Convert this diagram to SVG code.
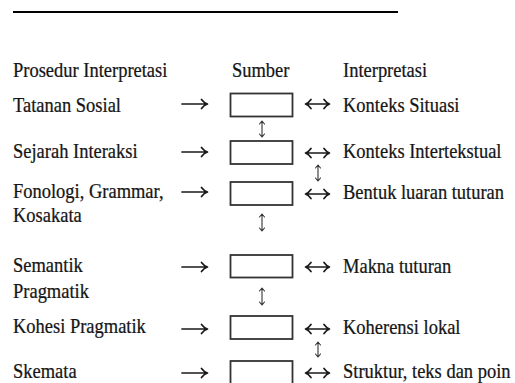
<svg xmlns="http://www.w3.org/2000/svg" width="515" height="383" viewBox="0 0 515 383">
<style>
  .t { font-family: 'Liberation Serif', 'Times New Roman', Times, serif; font-size: 21px; fill: #151515; stroke: #151515; stroke-width: 0.25; }
  .box rect { fill: #ffffff; stroke: #333333; stroke-width: 1.8; }
  .arr { fill: none; stroke: #1a1a1a; stroke-width: 1.7; stroke-linecap: round; stroke-linejoin: round; }
  .varr { fill: none; stroke: #333333; stroke-width: 1.1; stroke-linecap: round; stroke-linejoin: round; }
</style>
<rect width="515" height="383" fill="#ffffff"/>
<line x1="13" y1="12" x2="398" y2="12" stroke="#000000" stroke-width="2"/>

<g id="labels" class="t" transform="scale(0.88,1)">
  <text x="14.8" y="77">Prosedur Interpretasi</text>
  <text x="263.6" y="77">Sumber</text>
  <text x="389.8" y="77">Interpretasi</text>
</g>

<g id="node-1">
  <g class="t" transform="scale(0.88,1)">
    <text x="14.8" y="112">Tatanan Sosial</text>
    <text x="389.8" y="112">Konteks Situasi</text>
  </g>
  <g class="box"><rect x="230.5" y="93.5" width="62" height="23"/></g>
</g>
<g id="node-2">
  <g class="t" transform="scale(0.88,1)">
    <text x="14.8" y="158">Sejarah Interaksi</text>
    <text x="389.8" y="158">Konteks Intertekstual</text>
  </g>
  <g class="box"><rect x="230.5" y="141" width="62" height="23"/></g>
</g>
<g id="node-3">
  <g class="t" transform="scale(0.88,1)">
    <text x="14.8" y="198">Fonologi, Grammar,</text>
    <text x="14.8" y="222">Kosakata</text>
    <text x="389.8" y="199">Bentuk luaran tuturan</text>
  </g>
  <g class="box"><rect x="230.5" y="182" width="62" height="23"/></g>
</g>
<g id="node-4">
  <g class="t" transform="scale(0.88,1)">
    <text x="14.8" y="272">Semantik</text>
    <text x="14.8" y="298">Pragmatik</text>
    <text x="389.8" y="273">Makna tuturan</text>
  </g>
  <g class="box"><rect x="230.5" y="255" width="62" height="22.5"/></g>
</g>
<g id="node-5">
  <g class="t" transform="scale(0.88,1)">
    <text x="14.8" y="333">Kohesi Pragmatik</text>
    <text x="389.8" y="334">Koherensi lokal</text>
  </g>
  <g class="box"><rect x="230.5" y="316" width="62" height="23"/></g>
</g>
<g id="node-6">
  <g class="t" transform="scale(0.88,1)">
    <text x="14.8" y="378">Skemata</text>
    <text x="389.8" y="378">Struktur, teks dan poin</text>
  </g>
  <g class="box"><rect x="230.5" y="361" width="62" height="30"/></g>
</g>

<g id="connectors">
  <path class="arr" d="M182,104 H207 M201.5,99.5 Q204,103 207.5,104 Q204,105 201.5,108.5"/>
  <path class="arr" d="M182,152 H207 M201.5,147.5 Q204,151 207.5,152 Q204,153 201.5,156.5"/>
  <path class="arr" d="M182,192 H207 M201.5,187.5 Q204,191 207.5,192 Q204,193 201.5,196.5"/>
  <path class="arr" d="M182,267 H207 M201.5,262.5 Q204,266 207.5,267 Q204,268 201.5,271.5"/>
  <path class="arr" d="M182,329 H207 M201.5,324.5 Q204,328 207.5,329 Q204,330 201.5,333.5"/>
  <path class="arr" d="M182,373 H207 M201.5,368.5 Q204,372 207.5,373 Q204,374 201.5,377.5"/>
  <path class="arr" d="M306,104 H329 M311,99.5 Q308.5,103 305.5,104 Q308.5,105 311,108.5 M324,99.5 Q326.5,103 329.5,104 Q326.5,105 324,108.5"/>
  <path class="arr" d="M306,153 H329 M311,148.5 Q308.5,152 305.5,153 Q308.5,154 311,157.5 M324,148.5 Q326.5,152 329.5,153 Q326.5,154 324,157.5"/>
  <path class="arr" d="M306,194 H329 M311,189.5 Q308.5,193 305.5,194 Q308.5,195 311,198.5 M324,189.5 Q326.5,193 329.5,194 Q326.5,195 324,198.5"/>
  <path class="arr" d="M306,267 H329 M311,262.5 Q308.5,266 305.5,267 Q308.5,268 311,271.5 M324,262.5 Q326.5,266 329.5,267 Q326.5,268 324,271.5"/>
  <path class="arr" d="M306,329 H329 M311,324.5 Q308.5,328 305.5,329 Q308.5,330 311,333.5 M324,324.5 Q326.5,328 329.5,329 Q326.5,330 324,333.5"/>
  <path class="arr" d="M306,373 H329 M311,368.5 Q308.5,372 305.5,373 Q308.5,374 311,377.5 M324,368.5 Q326.5,372 329.5,373 Q326.5,374 324,377.5"/>
  <path class="varr" d="M262,121 V137 M259.5,124 L262,121 L264.5,124 M259.5,134 L262,137 L264.5,134"/>
  <path class="varr" d="M318,165 V181 M315.5,168 L318,165 L320.5,168 M315.5,178 L318,181 L320.5,178"/>
  <path class="varr" d="M262,214 V231 M259.5,217 L262,214 L264.5,217 M259.5,228 L262,231 L264.5,228"/>
  <path class="varr" d="M262,288 V305 M259.5,291 L262,288 L264.5,291 M259.5,302 L262,305 L264.5,302"/>
  <path class="varr" d="M318,342 V357 M315.5,345 L318,342 L320.5,345 M315.5,354 L318,357 L320.5,354"/>
</g>
</svg>
